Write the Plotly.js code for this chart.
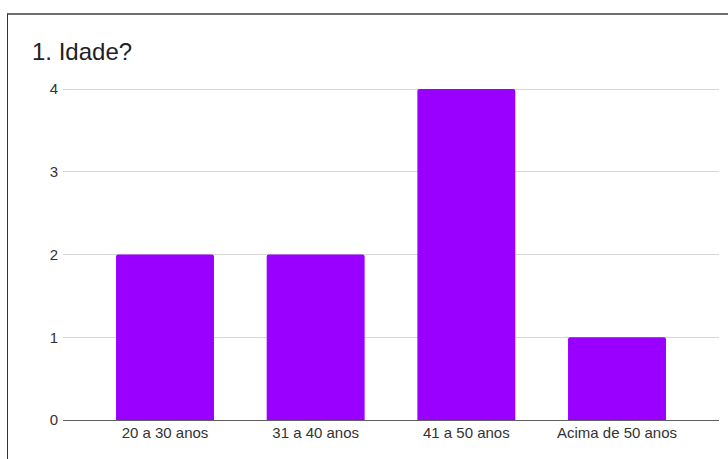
<!DOCTYPE html>
<html>
<head>
<meta charset="utf-8">
<script src="https://cdn.plot.ly/plotly-3.0.1.min.js"></script>
<style>
  html, body { margin: 0; padding: 0; background: #fff; }
  #wrap { position: relative; width: 728px; height: 459px; overflow: hidden; }
  #chart { position: absolute; left: 0; top: 0; width: 728px; height: 459px; }
  #frame { position: absolute; left: 7px; top: 13px; width: 760px; height: 480px;
           border-left: 1px solid #333; border-top: 2px solid #6e6e6e; pointer-events: none; }
</style>
</head>
<body>
<div id="wrap">
  <div id="chart"></div>
  <div id="frame"></div>
</div>
<script>
const categories = ["20 a 30 anos", "31 a 40 anos", "41 a 50 anos", "Acima de 50 anos"];
const counts = [2, 2, 4, 1];
const yTicks = [0, 1, 2, 3, 4];

const trace = {
  type: 'bar',
  x: categories,
  y: counts,
  marker: { color: '#9900ff', cornerradius: 2 },
  hoverinfo: 'none'
};

const font = "Arial, 'Liberation Sans', sans-serif";

const layout = {
  width: 728,
  height: 459,
  margin: { l: 63, r: 9, t: 87, b: 39, pad: 0 },
  paper_bgcolor: '#ffffff',
  plot_bgcolor: '#ffffff',
  showlegend: false,
  bargap: 0.35,
  title: {
    text: '1. Idade?',
    font: { family: font, size: 24, color: '#222222' },
    x: 32 / 728, xanchor: 'left', xref: 'container',
    y: 1 - 52 / 459, yanchor: 'middle', yref: 'container'
  },
  xaxis: {
    type: 'category',
    range: [-0.677, 3.677],
    showgrid: false,
    zeroline: false,
    showline: false,
    ticks: '',
    tickfont: { family: font, size: 15, color: '#333333' },
    ticklabelstandoff: 2,
    fixedrange: true
  },
  yaxis: {
    range: [0, 4.0242],
    tickvals: yTicks,
    ticktext: yTicks.map(String),
    showgrid: true,
    gridcolor: '#d6d6d6',
    gridwidth: 1,
    zeroline: true,
    zerolinecolor: '#5f5f5f',
    zerolinewidth: 1,
    showline: false,
    ticks: '',
    tickfont: { family: font, size: 15, color: '#333333' },
    ticklabelstandoff: 4,
    fixedrange: true
  }
};

Plotly.newPlot('chart', [trace], layout, { displayModeBar: false, staticPlot: true });
</script>
</body>
</html>
